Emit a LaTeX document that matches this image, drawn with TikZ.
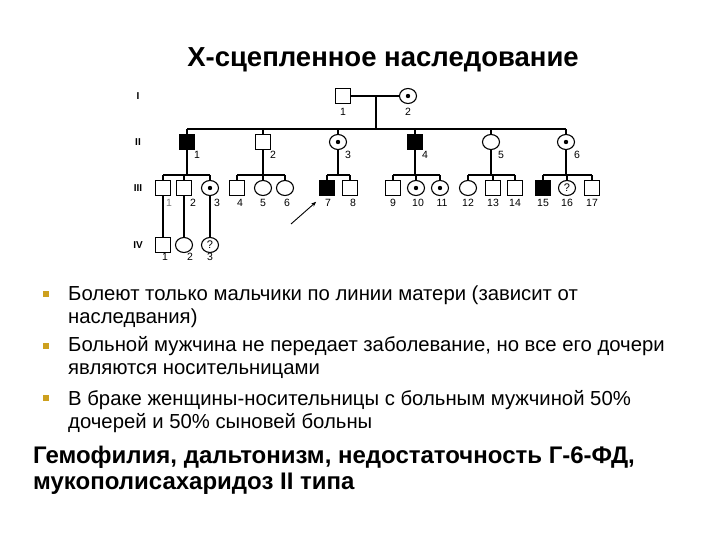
\documentclass[tikz,border=0pt]{standalone}
\usepackage{fontspec}
\setmainfont{Liberation Sans}
\usetikzlibrary{arrows.meta, positioning, calc, shapes.geometric}
\definecolor{bulletgold}{RGB}{205,160,30}

\begin{document}
\begin{tikzpicture}[
    x=1pt, y=-1pt,
    line/.style={line width=1.1pt},
    male/.style={draw, line width=1.1pt, rectangle, minimum size=14.5pt, inner sep=0pt},
    ill/.style={male, fill=black},
    female/.style={draw, line width=1.1pt, ellipse, minimum width=17pt, minimum height=15pt, inner sep=0pt},
    carrier/.style={female, path picture={\fill (path picture bounding box.center) circle (2.2pt);}},
    unknown/.style={female, path picture={\node[font=\fontsize{11}{11}\selectfont] at (path picture bounding box.center) {?};}},
    num/.style={font=\fontsize{10.5}{11}\selectfont, inner sep=0pt},
    gen/.style={font=\fontsize{10}{11}\selectfont\bfseries, inner sep=0pt},
    bullet/.style={fill=bulletgold, minimum size=5.5pt, inner sep=0pt},
    item/.style={anchor=north west, align=left, inner sep=0pt, font=\fontsize{20.3}{23}\selectfont},
    note/.style={anchor=north west, align=left, inner sep=0pt, font=\fontsize{24}{26}\selectfont\bfseries}
]
\useasboundingbox (0,0) rectangle (720,540);

% title
\node[font=\fontsize{27.5}{30}\selectfont\bfseries] (title) at (383,60) {X-сцепленное наследование};

% generations
\foreach \n/\t/\y in {gI/I/96, gII/II/142, gIII/III/188, gIV/IV/245}
  \node[gen] (\n) at (138,\y) {\t};

% pedigree symbols
\foreach \n/\s/\x/\y in {I1/male/343/96, I2/carrier/408/96,
    II1/ill/187/142, II2/male/263/142, II3/carrier/338/142,
    II4/ill/415/142, II5/female/491/142, II6/carrier/566/142,
    III1/male/163/188, III2/male/184/188, III3/carrier/210/188,
    III4/male/237/188, III5/female/263/188, III6/female/285/188,
    III7/ill/327/188, III8/male/350/188,
    III9/male/393/188, III10/carrier/416/188, III11/carrier/440/188,
    III12/female/468/188, III13/male/493/188, III14/male/515/188,
    III15/ill/543/188, III16/unknown/567/188, III17/male/592/188,
    IV1/male/163/245, IV2/female/184/245, IV3/unknown/210/245}
  \node[\s] (\n) at (\x,\y) {};

% numbers
\foreach \n/\x/\y/\t in {I1/343/112/1, I2/408/112/2,
    II1/197/155/1, II2/273/155/2, II3/348/155/3,
    II4/425/155/4, II5/501/155/5, II6/577/155/6,
    III2/193/203/2, III3/217/203/3, III4/240/203/4, III5/263/203/5,
    III6/287/203/6, III7/328/203/7, III8/353/203/8, III9/393/203/9,
    III10/418/203/10, III11/442/203/11, III12/468/203/12, III13/493/203/13,
    III14/515/203/14, III15/543/203/15, III16/567/203/16, III17/592/203/17,
    IV1/165/257/1, IV2/190/257/2, IV3/210/257/3}
  \node[num] (n\n) at (\x,\y) {\t};
\node[num, text=gray] (nIII1) at (169,203) {1};

% lines
\coordinate (sII) at (376,129);
\coordinate (sIII) at (0,175);
\draw[line] (I1) -- (I2);
\draw[line] (sII |- I1) -- (sII);
\draw[line] (II1 |- sII) -- (II6 |- sII);
\foreach \i in {1,...,6}
  \draw[line] (II\i.north) -- (II\i |- sII);
\foreach \p/\a/\b in {II1/III1/III3, II2/III4/III6, II3/III7/III8,
    II4/III9/III11, II5/III12/III14, II6/III15/III17} {
  \draw[line] (\p.south) -- (\p |- sIII);
  \draw[line] (\a |- sIII) -- (\b |- sIII);
}
\foreach \i in {1,...,17}
  \draw[line] (III\i.north) -- (III\i |- sIII);
\foreach \i in {1,2,3}
  \draw[line] (III\i.south) -- (III\i |- IV\i.north);

% proband
\coordinate (prob) at (291,224);
\draw[-{Stealth[length=5pt, width=4pt]}, line width=0.9pt] (prob) -- ($(III7.south west)+(-3,6)$);

% bullets
\foreach \n/\y in {1/294, 2/346, 3/398}
  \node[bullet] (b\n) at (46,\y) {};

\node[item] (t1) at (68,285.5) {Болеют только мальчики по линии матери (зависит от\\наследвания)};
\node[item] (t2) at (68,336.5) {Больной мужчина не передает заболевание, но все его дочери\\являются носительницами};
\node[item] (t3) at (68,390.5) {В браке женщины-носительницы с больным мужчиной 50\%\\дочерей и 50\% сыновей больны};

\node[note] (diseases) at (33,446) {Гемофилия, дальтонизм, недостаточность Г-6-ФД,\\мукополисахаридоз II типа};
\end{tikzpicture}
\end{document}
